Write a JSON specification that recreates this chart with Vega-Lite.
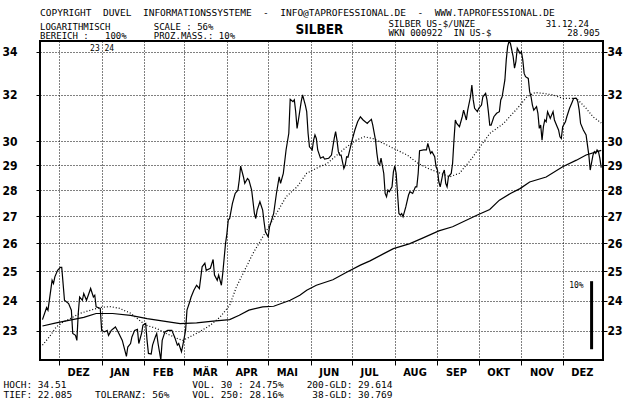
{
  "$schema": "https://vega.github.io/schema/vega-lite/v6.json",
  "width": 563,
  "height": 319,
  "autosize": {"type": "none"},
  "padding": {"left": 40, "top": 41, "right": 37, "bottom": 41},
  "background": "white",
  "title": {
    "text": "\u00a0\u00a0\u00a0\u00a0COPYRIGHT\u00a0\u00a0DUVEL\u00a0\u00a0INFORMATIONSSYSTEME\u00a0\u00a0-\u00a0\u00a0INFO@TAPROFESSIONAL.DE\u00a0\u00a0-\u00a0\u00a0WWW.TAPROFESSIONAL.DE",
    "subtitle": [
      "LOGARITHMISCH\u00a0\u00a0\u00a0\u00a0\u00a0\u00a0\u00a0\u00a0SCALE\u00a0:\u00a056%",
      "BEREICH\u00a0:\u00a0\u00a0\u00a0100%\u00a0\u00a0\u00a0\u00a0\u00a0PROZ.MASS.:\u00a010%"
    ],
    "anchor": "start",
    "frame": "group",
    "font": "DejaVu Sans Mono",
    "fontSize": 9.5,
    "fontWeight": "normal",
    "color": "black",
    "subtitleFont": "DejaVu Sans Mono",
    "subtitleFontSize": 9,
    "subtitleColor": "black",
    "subtitleLineHeight": 9.5,
    "subtitlePadding": 5,
    "offset": -22
  },
  "datasets": {
    "kurs": [
      {"d":"2023-11-19","v":23.37},{"d":"2023-11-22","v":23.77},{"d":"2023-11-23","v":23.68},{"d":"2023-11-26","v":24.69},{"d":"2023-11-27","v":24.58},{"d":"2023-11-28","v":24.81},{"d":"2023-11-30","v":25.04},{"d":"2023-12-02","v":25.14},{"d":"2023-12-03","v":25.14},{"d":"2023-12-05","v":24.01},{"d":"2023-12-08","v":23.90},{"d":"2023-12-10","v":23.68},{"d":"2023-12-11","v":22.92},{"d":"2023-12-13","v":22.86},{"d":"2023-12-14","v":22.70},{"d":"2023-12-15","v":23.57},{"d":"2023-12-16","v":24.12},{"d":"2023-12-18","v":24.01},{"d":"2023-12-19","v":24.24},{"d":"2023-12-21","v":24.01},{"d":"2023-12-24","v":24.41},{"d":"2023-12-26","v":24.12},{"d":"2023-12-27","v":24.18},{"d":"2023-12-28","v":23.79},{"d":"2023-12-31","v":23.74},
      {"d":"2024-01-01","v":23.02},{"d":"2024-01-03","v":22.97},{"d":"2024-01-05","v":23.02},{"d":"2024-01-06","v":22.86},{"d":"2024-01-08","v":23.02},{"d":"2024-01-11","v":23.13},{"d":"2024-01-13","v":22.97},{"d":"2024-01-16","v":22.70},{"d":"2024-01-19","v":22.20},{"d":"2024-01-20","v":22.49},{"d":"2024-01-22","v":22.60},{"d":"2024-01-23","v":22.81},{"d":"2024-01-25","v":23.02},{"d":"2024-01-27","v":23.05},{"d":"2024-01-28","v":22.60},{"d":"2024-01-30","v":22.92},{"d":"2024-01-31","v":23.19},
      {"d":"2024-02-02","v":23.24},{"d":"2024-02-03","v":22.70},{"d":"2024-02-04","v":22.29},{"d":"2024-02-06","v":22.27},{"d":"2024-02-07","v":22.55},{"d":"2024-02-09","v":22.81},{"d":"2024-02-10","v":22.92},{"d":"2024-02-11","v":22.60},{"d":"2024-02-13","v":22.09},{"d":"2024-02-14","v":22.70},{"d":"2024-02-16","v":22.97},{"d":"2024-02-18","v":23.02},{"d":"2024-02-21","v":23.02},{"d":"2024-02-23","v":22.81},{"d":"2024-02-25","v":22.55},{"d":"2024-02-26","v":22.60},{"d":"2024-02-28","v":22.34},{"d":"2024-02-29","v":22.55},
      {"d":"2024-03-02","v":23.02},{"d":"2024-03-03","v":23.68},{"d":"2024-03-05","v":23.96},{"d":"2024-03-06","v":24.12},{"d":"2024-03-08","v":24.35},{"d":"2024-03-10","v":24.52},{"d":"2024-03-12","v":24.41},{"d":"2024-03-14","v":25.16},{"d":"2024-03-16","v":25.29},{"d":"2024-03-17","v":25.04},{"d":"2024-03-20","v":25.11},{"d":"2024-03-22","v":25.42},{"d":"2024-03-23","v":24.87},{"d":"2024-03-25","v":24.69},{"d":"2024-03-26","v":24.87},{"d":"2024-03-28","v":24.52},{"d":"2024-03-29","v":24.93},{"d":"2024-03-31","v":25.99},
      {"d":"2024-04-01","v":26.35},{"d":"2024-04-02","v":26.86},{"d":"2024-04-03","v":26.92},{"d":"2024-04-05","v":27.49},{"d":"2024-04-07","v":27.88},{"d":"2024-04-09","v":28.01},{"d":"2024-04-10","v":28.41},{"d":"2024-04-11","v":28.97},{"d":"2024-04-13","v":28.54},{"d":"2024-04-14","v":28.28},{"d":"2024-04-16","v":28.47},{"d":"2024-04-17","v":28.41},{"d":"2024-04-19","v":28.01},{"d":"2024-04-21","v":27.11},{"d":"2024-04-22","v":26.92},{"d":"2024-04-23","v":27.24},{"d":"2024-04-25","v":27.56},{"d":"2024-04-27","v":27.24},{"d":"2024-04-28","v":26.80},{"d":"2024-04-29","v":26.42},
      {"d":"2024-05-01","v":26.24},{"d":"2024-05-02","v":26.61},{"d":"2024-05-05","v":27.11},{"d":"2024-05-07","v":27.88},{"d":"2024-05-09","v":28.54},{"d":"2024-05-10","v":28.28},{"d":"2024-05-12","v":28.67},{"d":"2024-05-14","v":29.63},{"d":"2024-05-16","v":30.33},{"d":"2024-05-17","v":31.81},{"d":"2024-05-19","v":31.70},{"d":"2024-05-20","v":31.78},{"d":"2024-05-21","v":31.26},{"d":"2024-05-22","v":30.54},{"d":"2024-05-23","v":30.90},{"d":"2024-05-25","v":31.70},{"d":"2024-05-26","v":32.00},{"d":"2024-05-28","v":31.55},{"d":"2024-05-29","v":31.26},{"d":"2024-05-30","v":30.33},{"d":"2024-05-31","v":29.76},
      {"d":"2024-06-02","v":29.63},{"d":"2024-06-03","v":30.04},{"d":"2024-06-04","v":30.26},{"d":"2024-06-05","v":30.11},{"d":"2024-06-06","v":29.63},{"d":"2024-06-08","v":29.29},{"d":"2024-06-10","v":29.35},{"d":"2024-06-11","v":29.25},{"d":"2024-06-14","v":29.29},{"d":"2024-06-16","v":29.42},{"d":"2024-06-18","v":30.11},{"d":"2024-06-19","v":30.40},{"d":"2024-06-20","v":30.04},{"d":"2024-06-21","v":29.56},{"d":"2024-06-22","v":29.42},{"d":"2024-06-23","v":29.42},{"d":"2024-06-25","v":28.87},{"d":"2024-06-26","v":29.01},{"d":"2024-06-27","v":29.35},{"d":"2024-06-28","v":29.33},{"d":"2024-06-29","v":29.56},
      {"d":"2024-07-01","v":30.04},{"d":"2024-07-03","v":30.47},{"d":"2024-07-05","v":30.82},{"d":"2024-07-07","v":31.04},{"d":"2024-07-09","v":30.90},{"d":"2024-07-12","v":30.75},{"d":"2024-07-13","v":30.82},{"d":"2024-07-15","v":30.93},{"d":"2024-07-16","v":30.68},{"d":"2024-07-18","v":30.04},{"d":"2024-07-19","v":29.49},{"d":"2024-07-20","v":29.08},{"d":"2024-07-21","v":29.01},{"d":"2024-07-22","v":29.29},{"d":"2024-07-24","v":28.67},{"d":"2024-07-25","v":27.88},{"d":"2024-07-26","v":27.75},{"d":"2024-07-27","v":28.01},{"d":"2024-07-28","v":27.95},{"d":"2024-07-30","v":28.14},{"d":"2024-07-31","v":28.74},
      {"d":"2024-08-01","v":28.97},{"d":"2024-08-02","v":28.67},{"d":"2024-08-04","v":27.11},{"d":"2024-08-05","v":27.05},{"d":"2024-08-06","v":27.11},{"d":"2024-08-07","v":26.99},{"d":"2024-08-09","v":27.36},{"d":"2024-08-11","v":27.82},{"d":"2024-08-12","v":27.95},{"d":"2024-08-14","v":27.88},{"d":"2024-08-16","v":28.14},{"d":"2024-08-17","v":28.14},{"d":"2024-08-18","v":28.67},{"d":"2024-08-19","v":29.60},{"d":"2024-08-22","v":29.63},{"d":"2024-08-24","v":29.63},{"d":"2024-08-25","v":29.90},{"d":"2024-08-27","v":29.49},{"d":"2024-08-28","v":29.56},{"d":"2024-08-30","v":29.35},{"d":"2024-08-31","v":28.94},
      {"d":"2024-09-01","v":28.81},{"d":"2024-09-02","v":28.34},{"d":"2024-09-03","v":28.14},{"d":"2024-09-05","v":28.67},{"d":"2024-09-06","v":28.81},{"d":"2024-09-07","v":28.28},{"d":"2024-09-08","v":28.14},{"d":"2024-09-09","v":28.54},{"d":"2024-09-11","v":28.67},{"d":"2024-09-12","v":29.08},{"d":"2024-09-13","v":30.04},{"d":"2024-09-14","v":30.90},{"d":"2024-09-15","v":30.75},{"d":"2024-09-17","v":30.61},{"d":"2024-09-19","v":31.04},{"d":"2024-09-20","v":31.33},{"d":"2024-09-22","v":30.90},{"d":"2024-09-23","v":31.33},{"d":"2024-09-25","v":31.92},{"d":"2024-09-26","v":32.45},{"d":"2024-09-27","v":31.78},{"d":"2024-09-28","v":31.41},{"d":"2024-09-30","v":31.26},
      {"d":"2024-10-01","v":31.41},{"d":"2024-10-03","v":31.55},{"d":"2024-10-04","v":31.92},{"d":"2024-10-06","v":32.07},{"d":"2024-10-07","v":31.78},{"d":"2024-10-08","v":31.26},{"d":"2024-10-09","v":30.68},{"d":"2024-10-10","v":30.68},{"d":"2024-10-12","v":31.04},{"d":"2024-10-14","v":31.19},{"d":"2024-10-16","v":31.26},{"d":"2024-10-17","v":31.78},{"d":"2024-10-18","v":31.92},{"d":"2024-10-20","v":32.68},{"d":"2024-10-21","v":33.61},{"d":"2024-10-22","v":34.24},{"d":"2024-10-23","v":34.49},{"d":"2024-10-24","v":34.40},{"d":"2024-10-26","v":33.76},{"d":"2024-10-27","v":33.22},{"d":"2024-10-28","v":33.53},{"d":"2024-10-29","v":34.16},{"d":"2024-10-31","v":33.92},
      {"d":"2024-11-01","v":34.00},{"d":"2024-11-02","v":33.61},{"d":"2024-11-03","v":32.98},{"d":"2024-11-04","v":32.83},{"d":"2024-11-06","v":32.75},{"d":"2024-11-07","v":32.15},{"d":"2024-11-08","v":31.92},{"d":"2024-11-09","v":31.55},{"d":"2024-11-10","v":31.33},{"d":"2024-11-12","v":31.48},{"d":"2024-11-13","v":31.19},{"d":"2024-11-14","v":30.54},{"d":"2024-11-15","v":30.68},{"d":"2024-11-16","v":30.04},{"d":"2024-11-17","v":30.61},{"d":"2024-11-18","v":30.90},{"d":"2024-11-19","v":30.82},{"d":"2024-11-20","v":31.26},{"d":"2024-11-22","v":30.97},{"d":"2024-11-23","v":31.12},{"d":"2024-11-24","v":31.26},{"d":"2024-11-25","v":30.90},{"d":"2024-11-27","v":30.61},{"d":"2024-11-28","v":30.47},{"d":"2024-11-29","v":30.18},{"d":"2024-11-30","v":30.11},
      {"d":"2024-12-01","v":30.61},{"d":"2024-12-03","v":30.82},{"d":"2024-12-04","v":31.04},{"d":"2024-12-06","v":31.41},{"d":"2024-12-08","v":31.70},{"d":"2024-12-09","v":31.85},{"d":"2024-12-11","v":31.85},{"d":"2024-12-12","v":31.70},{"d":"2024-12-13","v":31.33},{"d":"2024-12-14","v":30.75},{"d":"2024-12-16","v":30.47},{"d":"2024-12-18","v":30.26},{"d":"2024-12-19","v":29.83},{"d":"2024-12-20","v":29.42},{"d":"2024-12-21","v":28.81},{"d":"2024-12-23","v":29.42},{"d":"2024-12-24","v":29.56},{"d":"2024-12-25","v":29.49},{"d":"2024-12-26","v":29.63},{"d":"2024-12-27","v":29.56},{"d":"2024-12-28","v":29.29},{"d":"2024-12-29","v":28.905}
    ],
    "gd38": [
      {"d":"2023-11-19","v":22.55},{"d":"2023-11-24","v":22.81},{"d":"2023-11-29","v":23.13},{"d":"2023-12-04","v":23.29},{"d":"2023-12-09","v":23.40},{"d":"2023-12-16","v":23.57},{"d":"2023-12-24","v":23.68},{"d":"2023-12-31","v":23.77},{"d":"2024-01-07","v":23.80},{"d":"2024-01-14","v":23.74},{"d":"2024-01-22","v":23.58},{"d":"2024-01-27","v":23.40},{"d":"2024-02-02","v":23.19},{"d":"2024-02-10","v":23.08},{"d":"2024-02-17","v":22.92},{"d":"2024-02-25","v":22.76},{"d":"2024-02-29","v":22.70},{"d":"2024-03-05","v":22.81},{"d":"2024-03-12","v":22.97},{"d":"2024-03-20","v":23.19},{"d":"2024-03-27","v":23.45},{"d":"2024-04-03","v":23.84},{"d":"2024-04-08","v":24.47},{"d":"2024-04-20","v":25.64},{"d":"2024-04-29","v":26.40},{"d":"2024-05-07","v":27.11},{"d":"2024-05-14","v":27.75},{"d":"2024-05-22","v":28.14},{"d":"2024-05-29","v":28.68},{"d":"2024-06-05","v":28.88},{"d":"2024-06-13","v":29.08},{"d":"2024-06-20","v":29.42},{"d":"2024-06-27","v":29.76},{"d":"2024-07-04","v":30.04},{"d":"2024-07-10","v":30.18},{"d":"2024-07-16","v":30.11},{"d":"2024-07-24","v":29.90},{"d":"2024-07-31","v":29.70},{"d":"2024-08-10","v":29.42},{"d":"2024-08-18","v":29.08},{"d":"2024-08-25","v":28.88},{"d":"2024-09-03","v":28.68},{"d":"2024-09-10","v":28.54},{"d":"2024-09-17","v":28.68},{"d":"2024-09-25","v":29.21},{"d":"2024-10-02","v":29.76},{"d":"2024-10-09","v":30.32},{"d":"2024-10-19","v":30.75},{"d":"2024-10-29","v":31.40},{"d":"2024-11-05","v":31.92},{"d":"2024-11-11","v":32.11},{"d":"2024-11-17","v":32.07},{"d":"2024-11-24","v":32.00},{"d":"2024-12-01","v":31.85},{"d":"2024-12-11","v":31.85},{"d":"2024-12-18","v":31.41},{"d":"2024-12-23","v":31.04},{"d":"2024-12-29","v":30.77}
    ],
    "gd200": [
      {"d":"2023-11-19","v":23.16},{"d":"2023-11-29","v":23.26},{"d":"2023-12-09","v":23.35},{"d":"2023-12-19","v":23.44},{"d":"2023-12-28","v":23.57},{"d":"2024-01-09","v":23.57},{"d":"2024-01-22","v":23.51},{"d":"2024-02-03","v":23.40},{"d":"2024-02-15","v":23.32},{"d":"2024-02-27","v":23.24},{"d":"2024-03-10","v":23.26},{"d":"2024-03-22","v":23.32},{"d":"2024-04-03","v":23.37},{"d":"2024-04-10","v":23.51},{"d":"2024-04-17","v":23.68},{"d":"2024-04-27","v":23.79},{"d":"2024-05-05","v":23.81},{"d":"2024-05-17","v":24.01},{"d":"2024-05-24","v":24.18},{"d":"2024-05-29","v":24.35},{"d":"2024-06-05","v":24.52},{"d":"2024-06-17","v":24.71},{"d":"2024-06-27","v":24.97},{"d":"2024-07-07","v":25.22},{"d":"2024-07-14","v":25.37},{"d":"2024-07-24","v":25.63},{"d":"2024-07-31","v":25.81},{"d":"2024-08-12","v":25.99},{"d":"2024-08-22","v":26.21},{"d":"2024-09-02","v":26.46},{"d":"2024-09-12","v":26.61},{"d":"2024-09-30","v":27.05},{"d":"2024-10-09","v":27.26},{"d":"2024-10-16","v":27.62},{"d":"2024-10-24","v":27.88},{"d":"2024-10-31","v":28.07},{"d":"2024-11-07","v":28.33},{"d":"2024-11-19","v":28.53},{"d":"2024-12-01","v":28.94},{"d":"2024-12-11","v":29.21},{"d":"2024-12-18","v":29.42},{"d":"2024-12-29","v":29.61}
    ],
    "massstab": [
      {"d":"2024-12-22","lo":22.42,"hi":24.66,"label":"10%"}
    ]
  },
  "layer": [
    {
      "data": {"name": "kurs"},
      "mark": {"type": "line", "color": "black", "strokeWidth": 1.2},
      "encoding": {
        "x": {
          "field": "d", "type": "temporal",
          "scale": {"type": "utc", "domain": [{"year":2023,"month":11,"date":17,"hours":5,"utc":true},{"year":2024,"month":12,"date":30,"hours":7,"utc":true}]},
          "axis": {
            "orient": "bottom",
            "values": [{"year":2023,"month":12,"date":1,"utc":true},{"year":2024,"month":1,"date":1,"utc":true},{"year":2024,"month":2,"date":1,"utc":true},{"year":2024,"month":3,"date":1,"utc":true},{"year":2024,"month":4,"date":1,"utc":true},{"year":2024,"month":5,"date":1,"utc":true},{"year":2024,"month":6,"date":1,"utc":true},{"year":2024,"month":7,"date":1,"utc":true},{"year":2024,"month":8,"date":1,"utc":true},{"year":2024,"month":9,"date":1,"utc":true},{"year":2024,"month":10,"date":1,"utc":true},{"year":2024,"month":11,"date":1,"utc":true},{"year":2024,"month":12,"date":1,"utc":true}],
            "labelExpr": "['JAN','FEB','MÄR','APR','MAI','JUN','JUL','AUG','SEP','OKT','NOV','DEZ'][utcmonth(datum.value)]",
            "grid": true, "gridDash": [1, 2], "gridColor": "black", "gridOpacity": 1, "gridWidth": 1,
            "domain": false,
            "tickSize": 5, "tickColor": "black", "tickWidth": 1,
            "labelAlign": "left", "labelOffset": 8, "labelBaseline": "top", "labelPadding": 1,
            "labelFont": "Liberation Sans Narrow, DejaVu Sans Condensed, DejaVu Sans", "labelFontWeight": "bold", "labelFontSize": 11, "labelColor": "black",
            "labelFlush": false, "labelOverlap": false,
            "title": [
              "HOCH:\u00a034.51\u00a0\u00a0\u00a0\u00a0\u00a0\u00a0\u00a0\u00a0\u00a0\u00a0\u00a0\u00a0\u00a0\u00a0\u00a0\u00a0\u00a0\u00a0\u00a0\u00a0\u00a0\u00a0VOL.\u00a030\u00a0:\u00a024.75%\u00a0\u00a0\u00a0\u00a0200-GLD:\u00a029.614",
              "TIEF:\u00a022.085\u00a0\u00a0\u00a0\u00a0TOLERANZ:\u00a056%\u00a0\u00a0\u00a0\u00a0VOL.\u00a0250:\u00a028.16%\u00a0\u00a0\u00a0\u00a0\u00a038-GLD:\u00a030.769"
            ],
            "titleFont": "DejaVu Sans Mono", "titleFontSize": 9.5, "titleFontWeight": "normal", "titleColor": "black",
            "titleAnchor": "start", "titleAlign": "left", "titleX": -37, "titleY": 27, "titleBaseline": "alphabetic", "titleLineHeight": 10.5
          }
        },
        "y": {
          "field": "v", "type": "quantitative",
          "scale": {"type": "log", "domain": [22.085, 34.51], "nice": false},
          "axis": {
            "orient": "left",
            "values": [23, 24, 25, 26, 27, 28, 29, 30, 32, 34],
            "format": "d",
            "grid": true, "gridDash": [1, 2], "gridColor": "black", "gridOpacity": 1, "gridWidth": 1,
            "domain": false,
            "tickSize": 4, "tickColor": "black",
            "labelPadding": 19,
            "labelFont": "DejaVu Sans Condensed, DejaVu Sans", "labelFontWeight": "bold", "labelFontSize": 12, "labelColor": "black",
            "title": null
          }
        }
      }
    },
    {
      "data": {"name": "gd38"},
      "mark": {"type": "line", "color": "black", "strokeWidth": 1.2, "strokeDash": [1, 2]},
      "encoding": {
        "x": {
          "field": "d", "type": "temporal",
          "scale": {"type": "utc", "domain": [{"year":2023,"month":11,"date":17,"hours":5,"utc":true},{"year":2024,"month":12,"date":30,"hours":7,"utc":true}]},
          "axis": {
            "orient": "top",
            "values": [{"year":2024,"month":1,"date":1,"utc":true}],
            "labelExpr": "'23\u00a024'",
            "grid": false, "domain": false, "ticks": false, "tickSize": 0,
            "labelFont": "DejaVu Sans Mono", "labelFontSize": 8, "labelColor": "black",
            "labelAlign": "center", "labelBaseline": "top", "labelPadding": -3,
            "title": "SILBER",
            "titleFont": "DejaVu Sans Condensed, DejaVu Sans", "titleFontWeight": "bold", "titleFontSize": 13.5, "titleColor": "black",
            "titleX": 279, "titleY": -7.5, "titleAlign": "center", "titleBaseline": "alphabetic"
          }
        },
        "y": {
          "field": "v", "type": "quantitative",
          "scale": {"type": "log", "domain": [22.085, 34.51], "nice": false},
          "axis": {
            "orient": "right",
            "values": [23, 24, 25, 26, 27, 28, 29, 30, 32, 34],
            "format": "d",
            "grid": false, "domain": false,
            "tickSize": 4, "tickColor": "black",
            "labelPadding": 0,
            "labelFont": "DejaVu Sans Condensed, DejaVu Sans", "labelFontWeight": "bold", "labelFontSize": 12, "labelColor": "black",
            "title": [
              "SILBER\u00a0US-$/UNZE\u00a0\u00a0\u00a0\u00a0\u00a0\u00a0\u00a0\u00a0\u00a0\u00a0\u00a0\u00a0\u00a031.12.24",
              "WKN\u00a0000922\u00a0\u00a0IN\u00a0US-$\u00a0\u00a0\u00a0\u00a0\u00a0\u00a0\u00a0\u00a0\u00a0\u00a0\u00a0\u00a0\u00a0\u00a028.905"
            ],
            "titleFont": "DejaVu Sans Mono", "titleFontSize": 9, "titleFontWeight": "normal", "titleColor": "black",
            "titleAngle": 0, "titleAlign": "left", "titleBaseline": "alphabetic",
            "titleX": -215, "titleY": -15, "titleLineHeight": 9.5
          }
        }
      }
    },
    {
      "data": {"name": "gd200"},
      "mark": {"type": "line", "color": "black", "strokeWidth": 1.2},
      "encoding": {
        "x": {"field": "d", "type": "temporal", "scale": {"type": "utc", "domain": [{"year":2023,"month":11,"date":17,"hours":5,"utc":true},{"year":2024,"month":12,"date":30,"hours":7,"utc":true}]}, "axis": null},
        "y": {"field": "v", "type": "quantitative", "scale": {"type": "log", "domain": [22.085, 34.51], "nice": false}, "axis": null}
      }
    },
    {
      "data": {"name": "massstab"},
      "mark": {"type": "rule", "color": "black", "strokeWidth": 3},
      "encoding": {
        "x": {"field": "d", "type": "temporal", "scale": {"type": "utc", "domain": [{"year":2023,"month":11,"date":17,"hours":5,"utc":true},{"year":2024,"month":12,"date":30,"hours":7,"utc":true}]}, "axis": null},
        "y": {"field": "lo", "type": "quantitative", "scale": {"type": "log", "domain": [22.085, 34.51], "nice": false}, "axis": null},
        "y2": {"field": "hi"}
      }
    },
    {
      "data": {"name": "massstab"},
      "mark": {"type": "text", "color": "black", "font": "DejaVu Sans Mono", "fontSize": 8, "align": "right", "baseline": "top", "dx": -8, "dy": 1},
      "encoding": {
        "x": {"field": "d", "type": "temporal", "scale": {"type": "utc", "domain": [{"year":2023,"month":11,"date":17,"hours":5,"utc":true},{"year":2024,"month":12,"date":30,"hours":7,"utc":true}]}, "axis": null},
        "y": {"field": "hi", "type": "quantitative", "scale": {"type": "log", "domain": [22.085, 34.51], "nice": false}, "axis": null},
        "text": {"field": "label"}
      }
    }
  ],
  "resolve": {"axis": {"x": "independent", "y": "independent"}},
  "config": {
    "view": {"stroke": "black", "strokeWidth": 2}
  }
}
